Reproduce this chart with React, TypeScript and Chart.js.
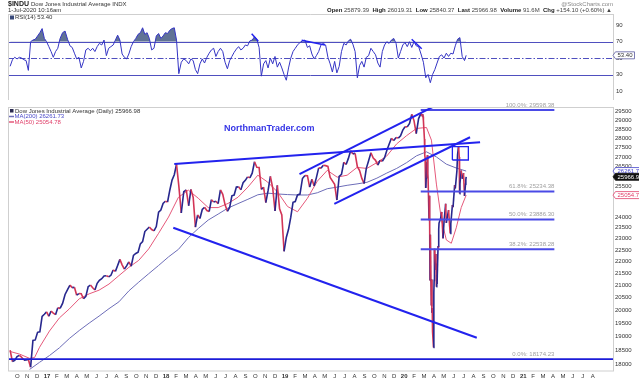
import React, { useEffect, useRef } from 'react';
import { Chart, registerables } from 'chart.js';
Chart.register(...registerables);

const FONT = '"Liberation Sans", Arial, sans-serif';

// ---------------- data ----------------
const weeklyStart = '2016-09-02';
const weeklyCloses = [
  18492, 18085, 18124, 18262, 18308, 18240, 18138, 18145, 18161, 17888, 18848, 18868, 19152, 19171, 19757, 19843, 19934, 19763,
  19964, 19886, 19827, 20094, 20071, 20269, 20624, 20822, 21005, 20903, 20915, 20597, 20663, 20656, 20453, 20548, 20941, 21007,
  20897, 20805, 21080, 21206, 21272, 21384, 21395, 21350, 21414, 21638, 21580, 21830, 22092, 21858, 21675, 21814, 21988, 21798,
  22268, 22350, 22405, 22774, 22871, 23329, 23434, 23539, 23422, 23358, 23558, 24231, 24329, 24652, 24754, 24719,
  25296, 25803, 26072, 26617, 25521, 24191, 25219, 25310, 24538, 25336, 24947, 23533, 24103, 23933, 24360, 24463, 24311, 24263,
  24831, 24715, 24753, 24635, 25317, 25090, 24581, 24271, 24456, 25019, 25058, 25451, 25463, 25313, 25669, 25790, 25965, 25917,
  26155, 26744, 26458, 26447, 25340, 25444, 24689, 25271, 25989, 25413, 24286, 25538, 24389, 24101, 22445, 23062,
  23433, 23996, 24706, 24737, 25064, 25106, 25883, 26031, 26026, 25450, 25849, 25502, 25929, 26425, 26412, 26560, 26543, 26505,
  25942, 25764, 25586, 24815, 25984, 26090, 26720, 26600, 26922, 27332, 27154, 27192, 26485, 26287, 25886, 25629, 26403, 26797,
  27220, 26935, 26820, 26573, 26817, 26770, 26958, 27347, 27681, 28005, 27876, 28051, 28015, 28135, 28455, 28645,
  28634, 28824, 29348, 28990, 28256, 29103, 29398,
];
const recentDates = [
  '2020-02-18', '2020-02-19', '2020-02-20', '2020-02-21', '2020-02-24', '2020-02-25', '2020-02-26', '2020-02-27', '2020-02-28',
  '2020-03-02', '2020-03-03', '2020-03-04', '2020-03-05', '2020-03-06', '2020-03-09', '2020-03-10', '2020-03-11', '2020-03-12',
  '2020-03-13', '2020-03-16', '2020-03-17', '2020-03-18', '2020-03-19', '2020-03-20', '2020-03-23', '2020-03-24', '2020-03-25',
  '2020-03-26', '2020-03-27', '2020-03-30', '2020-03-31', '2020-04-01', '2020-04-02', '2020-04-03', '2020-04-06', '2020-04-07',
  '2020-04-08', '2020-04-09', '2020-04-14', '2020-04-17', '2020-04-21', '2020-04-24', '2020-04-29', '2020-05-01', '2020-05-08',
  '2020-05-13', '2020-05-15', '2020-05-20', '2020-05-22', '2020-05-27', '2020-05-29', '2020-06-03', '2020-06-05', '2020-06-08',
  '2020-06-10', '2020-06-11', '2020-06-12', '2020-06-16', '2020-06-19', '2020-06-23', '2020-06-26', '2020-06-29', '2020-06-30',
  '2020-07-01',
];
const recentCloses = [
  29232, 29348, 29219, 28992, 27961, 27081, 26957, 25767, 25409,
  26703, 25917, 27091, 26122, 25865, 23851, 25018, 23553, 21200,
  23186, 20189, 21237, 19899, 20087, 19174, 18592, 20705, 21201,
  22552, 21637, 22328, 21917, 20944, 21413, 21053, 22680, 22654,
  23434, 23720, 23950, 24242, 23019, 23775, 24634, 23724, 24331,
  23248, 23685, 24576, 24465, 25548, 25383, 26270, 27111, 27572,
  26990, 25128, 25606, 26290, 25871, 26156, 25016, 25596, 25813,
  25966.98,
];

// moving averages (x = months since Jan 2016)
const ma200Months = [10, 11, 12, 13, 14, 15, 16, 17, 18, 19, 20, 21, 22, 23, 24, 25, 26, 27, 28, 29, 30, 31, 32, 33, 34, 35, 36, 37, 38, 39, 40, 41, 42, 43, 44, 45, 46, 47, 48, 49, 50, 51, 52, 53, 54];
const ma200Values = [17810, 18060, 18300, 18580, 18920, 19220, 19500, 19770, 20060, 20330, 20770, 21130, 21480, 21830, 22200, 22530, 23050, 23470, 23860, 24140, 24430, 24640, 24850, 25070, 25150, 25110, 25080, 25060, 25060, 25170, 25370, 25450, 25540, 25610, 25690, 25900, 26160, 26400, 26700, 27060, 27270, 27000, 26620, 26420, 26261.73];
const ma50Months = [8, 9, 10, 10.5, 11, 12, 13, 14, 15, 16, 17, 18, 19, 20, 21, 22, 23, 24, 25, 26, 27, 28, 29, 30, 31, 32, 33, 34, 35, 36, 37, 38, 39, 40, 41, 42, 43, 44, 45, 46, 47, 48, 49, 50, 50.5, 51, 51.5, 52, 52.5, 53, 53.5, 54];
const ma50Values = [18450, 18350, 18200, 18230, 18600, 19200, 19700, 20050, 20450, 20650, 20800, 21050, 21400, 21750, 22050, 22550, 23250, 24000, 24950, 25300, 24900, 24450, 24450, 24650, 24950, 25450, 26050, 25700, 25200, 24500, 24250, 24900, 25750, 26300, 25950, 26050, 26450, 26400, 26700, 27050, 27700, 28150, 28550, 28600, 27900, 25600, 23900, 22950, 22800, 23500, 24450, 25054.78];

// RSI(14), weekly readings
const rsiStart = '2016-09-02';
const rsiWeekly = [
  40, 48, 51, 49, 51, 50, 48, 47, 35, 70, 72, 73, 77, 81, 86, 74, 70, 64, 58, 51,
  58, 62, 74, 81, 83, 73, 65, 63, 56, 49, 51, 38, 46, 60, 62, 59, 62, 58, 64, 68,
  66, 72, 53, 62, 64, 66, 72, 78, 72, 55, 51, 49, 55, 64, 70, 74, 79, 81, 87, 79,
  81, 74, 60, 62, 77, 80, 74, 77, 81, 80, 84, 86, 87, 72, 31, 45, 49, 47, 43, 49,
  47, 36, 31, 43, 49, 44, 51, 56, 60, 62, 52, 58, 62, 58, 45, 37, 47, 52, 57, 61,
  64, 60, 62, 66, 65, 71, 72, 76, 73, 63, 28, 43, 47, 38, 50, 43, 52, 39, 45, 38,
  30, 23, 38, 50, 58, 62, 66, 69, 71, 72, 63, 65, 55, 49, 53, 58, 66, 68, 66, 51,
  43, 33, 46, 32, 40, 58, 68, 66, 71, 73, 67, 58, 26, 41, 46, 39, 51, 53, 62, 58,
  54, 44, 39, 58, 66, 70, 68, 72, 74, 68, 50, 58, 66, 69, 64, 70, 63, 70, 65, 64,
  55, 45, 26, 30, 20, 30, 36, 44, 52, 54, 50, 56, 52, 56, 55, 65, 73, 75, 52, 47,
];
const rsiLastDate = '2020-07-01';
const rsiLast = 53.4;

// drawn lines: [[month, value], [month, value]]
const priceTrendLines = [
  [[24.58, 26629], [55.40, 27785]],
  [[24.48, 23506], [55.07, 18951]],
  [[37.20, 26100], [51.09, 29907]],
  [[40.71, 24624], [54.39, 28059]],
];
const rsiTrendLines = [
  [[32.38, 79.6], [33.05, 70.6]],
  [[37.42, 71.9], [39.77, 66.1]],
  [[48.51, 73.0], [49.52, 61.5]],
];
const fibStart = 49.42;
const fibEnd = 62.89;
const fibLabels = ['100.0%', '61.8%', '50.0%', '38.2%', '0.0%'];
const fibValues = [29598.38, 25234.38, 23886.30, 22538.28, 18174.23];
const boxMonths = [52.61, 54.22];
const boxPrices = [26838, 27547];

const priceTicks = [18000, 18500, 19000, 19500, 20000, 20500, 21000, 21500, 22000, 22500, 23000, 23500, 24000, 24500, 25000, 25500, 26000, 26500, 27000, 27500, 28000, 28500, 29000, 29500];
const hiddenPriceTicks = [24500, 25000, 26000];
const rsiTicks = [10, 30, 50, 70, 90];
const monthLetters = ['J', 'F', 'M', 'A', 'M', 'J', 'J', 'A', 'S', 'O', 'N', 'D'];
const firstMonthTick = 9;
const lastMonthTick = 67;

// ---------------- helpers ----------------
const X_MIN = 7.82;
const X_MAX = 68.8;
const PRICE_MIN = 17755;
const PRICE_MAX = 29772;
const RSI_MIN = 6.95;
const RSI_MAX = 103.8;
const LABEL_SHIFT = 0.25;

const BLUE = '#27278e';
const RED = '#d23456';
const MA200_COLOR = '#6d6db8';
const MA50_COLOR = '#e5587a';
const LINE_BLUE = '#2222ee';

function monthsOfTime(t: number) {
  const d = new Date(t);
  const y = d.getUTCFullYear();
  const m = d.getUTCMonth();
  const dim = new Date(Date.UTC(y, m + 1, 0)).getUTCDate();
  return (y - 2016) * 12 + m + (d.getUTCDate() - 1) / dim;
}
function monthsOf(s: string) {
  const [y, m, d] = s.split('-').map(Number);
  return monthsOfTime(Date.UTC(y, m - 1, d));
}
const WEEK = 7 * 86400000;

function weeklySeries(start: string, values: number[]) {
  const [y, m, d] = start.split('-').map(Number);
  const t0 = Date.UTC(y, m - 1, d);
  return values.map((v, i) => ({ x: monthsOfTime(t0 + i * WEEK), y: v }));
}

function lineDs(points: { x: number; y: number }[], color: string, width: number, extra: any = {}) {
  return {
    type: 'line' as const,
    data: points,
    borderColor: color,
    borderWidth: width,
    pointRadius: 0,
    tension: 0,
    fill: false,
    ...extra,
  };
}

function monthTicks() {
  const arr: { value: number }[] = [];
  for (let k = firstMonthTick; k <= lastMonthTick; k++) arr.push({ value: k - LABEL_SHIFT });
  return arr;
}
function monthLabel(v: number) {
  const k = Math.round(v + LABEL_SHIFT);
  const mi = ((k % 12) + 12) % 12;
  if (mi === 0) return String(16 + k / 12);
  return monthLetters[mi];
}

function drawValueBox(ctx: CanvasRenderingContext2D, left: number, y: number, text: string, stroke: string, fill: string, color: string) {
  ctx.save();
  ctx.font = `6px ${FONT}`;
  const w = ctx.measureText(text).width + 4;
  const h = 7;
  ctx.beginPath();
  ctx.moveTo(left, y);
  ctx.lineTo(left + 2.5, y - h / 2);
  ctx.lineTo(left + 2.5 + w, y - h / 2);
  ctx.lineTo(left + 2.5 + w, y + h / 2);
  ctx.lineTo(left + 2.5, y + h / 2);
  ctx.closePath();
  ctx.fillStyle = fill;
  ctx.fill();
  ctx.strokeStyle = stroke;
  ctx.lineWidth = 0.8;
  ctx.stroke();
  ctx.fillStyle = color;
  ctx.textAlign = 'left';
  ctx.textBaseline = 'middle';
  ctx.fillText(text, left + 4.5, y + 0.5);
  ctx.restore();
}

// ---------------- component ----------------
export default function App() {
  const rsiRef = useRef<HTMLCanvasElement>(null);
  const priceRef = useRef<HTMLCanvasElement>(null);

  useEffect(() => {
    const xScaleHidden: any = {
      type: 'linear', min: X_MIN, max: X_MAX, display: false, bounds: 'data',
    };

    // ---------- RSI panel ----------
    const rsiPoints = weeklySeries(rsiStart, rsiWeekly);
    rsiPoints.push({ x: monthsOf(rsiLastDate), y: rsiLast });

    const rsiPlugin = {
      id: 'rsiDecor',
      beforeDatasetsDraw(chart: any) {
        const { ctx, chartArea: ca, scales } = chart;
        ctx.save();
        ctx.strokeStyle = '#4f4fbf';
        ctx.lineWidth = 1;
        [70, 30].forEach((v) => {
          const y = Math.round(scales.y.getPixelForValue(v)) + 0.5;
          ctx.beginPath(); ctx.moveTo(ca.left, y); ctx.lineTo(ca.right, y); ctx.stroke();
        });
        const y50 = Math.round(scales.y.getPixelForValue(50)) + 0.5;
        ctx.setLineDash([6, 2, 1.5, 2]);
        ctx.beginPath(); ctx.moveTo(ca.left, y50); ctx.lineTo(ca.right, y50); ctx.stroke();
        ctx.restore();
      },
      afterDraw(chart: any) {
        const { ctx, chartArea: ca, scales } = chart;
        ctx.save();
        ctx.strokeStyle = '#cfcfcf';
        ctx.lineWidth = 1;
        ctx.beginPath();
        ctx.moveTo(ca.left + 0.5, ca.top + 0.5); ctx.lineTo(ca.right, ca.top + 0.5);
        ctx.moveTo(ca.left + 0.5, ca.top); ctx.lineTo(ca.left + 0.5, chart.height);
        ctx.moveTo(ca.right + 0.5, ca.top); ctx.lineTo(ca.right + 0.5, chart.height);
        ctx.stroke();

        // header
        ctx.textBaseline = 'middle';
        ctx.textAlign = 'left';
        ctx.fillStyle = '#222';
        ctx.font = `bold 7px ${FONT}`;
        ctx.fillText('$INDU', 8, 4.5);
        const w0 = ctx.measureText('$INDU').width;
        ctx.font = `6px ${FONT}`;
        ctx.fillStyle = '#333';
        ctx.fillText('Dow Jones Industrial Average INDX', 8 + w0 + 2, 4.5);
        ctx.fillText('1-Jul-2020 10:16am', 8, 10.5);

        ctx.textAlign = 'right';
        ctx.fillStyle = '#888';
        ctx.fillText('@StockCharts.com', 613, 4);

        const parts: [string, string][] = [
          ['Open', ' 25879.39  '], ['High', ' 26019.31  '], ['Low', ' 25840.37  '],
          ['Last', ' 25966.98  '], ['Volume', ' 91.6M  '], ['Chg', ' +154.10 (+0.60%) \u25B2'],
        ];
        let total = 0;
        parts.forEach(([a, b]) => {
          ctx.font = `bold 6px ${FONT}`; total += ctx.measureText(a).width;
          ctx.font = `6px ${FONT}`; total += ctx.measureText(b).width;
        });
        let xx = 612 - total;
        ctx.textAlign = 'left';
        parts.forEach(([a, b]) => {
          ctx.font = `bold 6px ${FONT}`; ctx.fillStyle = '#222';
          ctx.fillText(a, xx, 10.5); xx += ctx.measureText(a).width;
          ctx.font = `6px ${FONT}`; ctx.fillStyle = '#444';
          ctx.fillText(b, xx, 10.5); xx += ctx.measureText(b).width;
        });

        // legend
        ctx.fillStyle = '#3a4a7a';
        ctx.fillRect(10, 15.5, 4, 4);
        ctx.font = `6px ${FONT}`;
        ctx.fillStyle = '#333';
        ctx.fillText(`RSI(14) ${rsiLast.toFixed(2)}`, 15, 17.8);

        drawValueBox(ctx, ca.right, scales.y.getPixelForValue(rsiLast), rsiLast.toFixed(2), '#5a5aa0', '#ffffff', '#333');
        ctx.restore();
      },
    };

    const rsiChart = new Chart(rsiRef.current as HTMLCanvasElement, {
      type: 'line',
      data: {
        datasets: [
          ...rsiTrendLines.map((l) => lineDs(l.map(([x, y]) => ({ x, y })), LINE_BLUE, 1.5)),
          lineDs(rsiPoints, '#3434c4', 1, {
            fill: { target: { value: 70 }, above: 'rgba(82,102,140,0.92)', below: 'rgba(0,0,0,0)' },
          }),
        ],
      },
      options: {
        animation: false,
        responsive: false,
        devicePixelRatio: 1,
        events: [],
        layout: { padding: { left: 8, top: 14, right: 0, bottom: 2 } },
        plugins: { legend: { display: false }, tooltip: { enabled: false } },
        scales: {
          x: xScaleHidden,
          y: {
            type: 'linear', position: 'right', min: RSI_MIN, max: RSI_MAX, bounds: 'data',
            afterBuildTicks: (s: any) => { s.ticks = rsiTicks.map((v) => ({ value: v })); },
            afterFit: (s: any) => { s.width = 26; },
            grid: { display: false, drawTicks: false },
            border: { display: false },
            ticks: { padding: 3, color: '#333', font: { size: 6, family: FONT }, autoSkip: false },
          },
        },
      } as any,
      plugins: [rsiPlugin],
    });

    // ---------- Price panel ----------
    const pricePoints = weeklySeries(weeklyStart, weeklyCloses).concat(
      recentDates.map((d, i) => ({ x: monthsOf(d), y: recentCloses[i] }))
    );
    const ma200Points = ma200Months.map((m, i) => ({ x: m, y: ma200Values[i] }));
    const ma50Points = ma50Months.map((m, i) => ({ x: m, y: ma50Values[i] }));
    const lastClose = recentCloses[recentCloses.length - 1];
    const lastMa200 = ma200Values[ma200Values.length - 1];
    const lastMa50 = ma50Values[ma50Values.length - 1];

    const fibDatasets = fibValues.map((v, i) =>
      lineDs(
        i === fibValues.length - 1
          ? [{ x: X_MIN, y: v }, { x: X_MAX, y: v }]
          : [{ x: fibStart, y: v }, { x: fibEnd, y: v }],
        i === fibValues.length - 1 ? '#1c1cd8' : '#4a4ae6',
        i === fibValues.length - 1 ? 1.6 : 2
      )
    );
    const boxDs = lineDs(
      [
        { x: boxMonths[0], y: boxPrices[0] }, { x: boxMonths[0], y: boxPrices[1] },
        { x: boxMonths[1], y: boxPrices[1] }, { x: boxMonths[1], y: boxPrices[0] },
        { x: boxMonths[0], y: boxPrices[0] },
      ],
      LINE_BLUE, 1.3
    );

    const pricePlugin = {
      id: 'priceDecor',
      afterDraw(chart: any) {
        const { ctx, chartArea: ca, scales } = chart;
        const xs = scales.x, ys = scales.y;
        ctx.save();
        ctx.strokeStyle = '#cfcfcf';
        ctx.lineWidth = 1;
        ctx.strokeRect(ca.left + 0.5, ca.top + 0.5, ca.right - ca.left, ca.bottom - ca.top - 0.5);

        // fib labels
        ctx.font = `6px ${FONT}`;
        ctx.fillStyle = '#a0a0a0';
        ctx.textAlign = 'right';
        ctx.textBaseline = 'bottom';
        fibValues.forEach((v, i) => {
          ctx.fillText(`${fibLabels[i]}: ${v.toFixed(2)}`, xs.getPixelForValue(fibEnd), ys.getPixelForValue(v) - 2);
        });

        // watermark
        ctx.font = `bold 9px ${FONT}`;
        ctx.fillStyle = '#3535e6';
        ctx.textAlign = 'left';
        ctx.textBaseline = 'middle';
        ctx.fillText('NorthmanTrader.com', 224, 28.5);

        // legend
        ctx.font = `6px ${FONT}`;
        ctx.fillStyle = '#2a2a50';
        ctx.fillRect(10, 9, 3.5, 3.5);
        ctx.fillStyle = '#333';
        ctx.fillText(`Dow Jones Industrial Average (Daily) ${lastClose.toFixed(2)}`, 15, 11);
        ctx.strokeStyle = MA200_COLOR; ctx.lineWidth = 1.5;
        ctx.beginPath(); ctx.moveTo(9, 16.5); ctx.lineTo(14, 16.5); ctx.stroke();
        ctx.fillStyle = '#4a4ac8';
        ctx.fillText(`MA(200) ${lastMa200.toFixed(2)}`, 14.5, 16.5);
        ctx.strokeStyle = MA50_COLOR;
        ctx.beginPath(); ctx.moveTo(9, 22); ctx.lineTo(14, 22); ctx.stroke();
        ctx.fillStyle = '#e0406a';
        ctx.fillText(`MA(50) ${lastMa50.toFixed(2)}`, 14.5, 22);

        // right value boxes
        drawValueBox(ctx, ca.right, ys.getPixelForValue(lastMa200), lastMa200.toFixed(2), '#4444cc', '#ffffff', '#3a3acc');
        drawValueBox(ctx, ca.right, ys.getPixelForValue(lastClose), lastClose.toFixed(2), '#111111', '#111111', '#ffffff');
        drawValueBox(ctx, ca.right, ys.getPixelForValue(lastMa50), lastMa50.toFixed(2), '#e0406a', '#ffffff', '#e0406a');
        ctx.restore();
      },
    };

    const priceChart = new Chart(priceRef.current as HTMLCanvasElement, {
      type: 'line',
      data: {
        datasets: [
          ...priceTrendLines.map((l) => lineDs(l.map(([x, y]) => ({ x, y })), LINE_BLUE, 2)),
          boxDs,
          ...fibDatasets,
          lineDs(pricePoints, BLUE, 1.6, {
            segment: {
              borderColor: (c: any) => (c.p1.parsed.y < c.p0.parsed.y ? RED : BLUE),
            },
          }),
          lineDs(ma50Points, MA50_COLOR, 1),
          lineDs(ma200Points, MA200_COLOR, 1),
        ],
      },
      options: {
        animation: false,
        responsive: false,
        devicePixelRatio: 1,
        events: [],
        layout: { padding: { left: 8, top: 7, right: 0, bottom: 0 } },
        plugins: { legend: { display: false }, tooltip: { enabled: false } },
        scales: {
          x: {
            type: 'linear', min: X_MIN, max: X_MAX, bounds: 'data',
            afterBuildTicks: (s: any) => { s.ticks = monthTicks(); },
            afterFit: (s: any) => { s.height = 8; },
            grid: { display: false, drawTicks: false },
            border: { display: false },
            ticks: {
              padding: 2,
              autoSkip: false,
              maxRotation: 0,
              minRotation: 0,
              color: '#333',
              font: (c: any) => {
                const v = c && c.tick ? c.tick.value : 0;
                const isYear = (((Math.round(v + LABEL_SHIFT)) % 12) + 12) % 12 === 0;
                return { size: 6, family: FONT, weight: isYear ? 'bold' : 'normal' };
              },
              callback: (v: any) => monthLabel(Number(v)),
            },
          },
          y: {
            type: 'logarithmic', position: 'right', min: PRICE_MIN, max: PRICE_MAX, bounds: 'data',
            afterBuildTicks: (s: any) => { s.ticks = priceTicks.map((v) => ({ value: v })); },
            afterFit: (s: any) => { s.width = 26; },
            grid: { display: false, drawTicks: false },
            border: { display: false },
            ticks: {
              padding: 2,
              color: '#333',
              autoSkip: false,
              font: { size: 6, family: FONT },
              callback: (v: any) => (hiddenPriceTicks.includes(Number(v)) ? '' : String(v)),
            },
          },
        },
      } as any,
      plugins: [pricePlugin],
    });

    return () => {
      rsiChart.destroy();
      priceChart.destroy();
    };
  }, []);

  return (
    <div style={{ position: 'absolute', left: 0, top: 0, width: 639, height: 379, background: '#fff', overflow: 'hidden' }}>
      <canvas ref={rsiRef} width={639} height={100} style={{ position: 'absolute', left: 0, top: 0, width: 639, height: 100 }} />
      <canvas ref={priceRef} width={639} height={279} style={{ position: 'absolute', left: 0, top: 100, width: 639, height: 279 }} />
    </div>
  );
}
